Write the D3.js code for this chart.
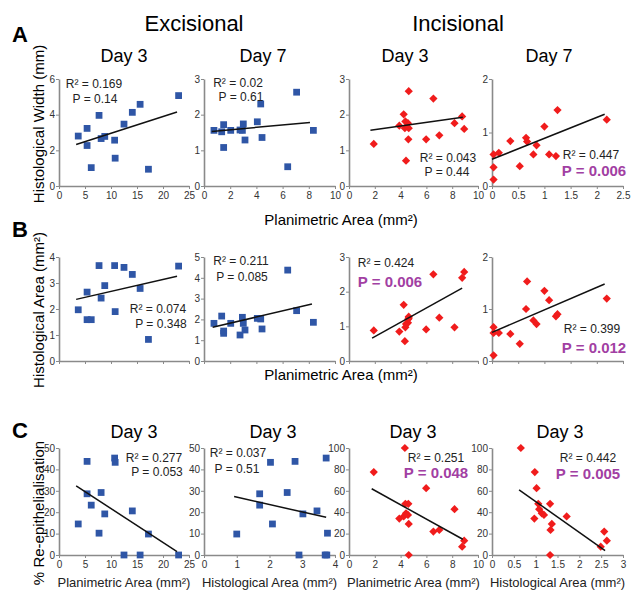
<!DOCTYPE html>
<html>
<head>
<meta charset="utf-8">
<script src="https://cdn.jsdelivr.net/npm/d3@7"></script>
<style>
body { margin: 0; background: #fff; }
svg { font-family: Arial, "Liberation Sans", sans-serif; }
.axis path, .axis line { stroke: #8a8a8a; }
.axis path { stroke-width: 1.6; }
.axis text { fill: #333; font-size: 10px; font-family: Arial, "Liberation Sans", sans-serif; }
</style>
</head>
<body>
<div id="main"></div>
<script>
// excisional wounds, day 3 (same wounds in A, B and C)
const excPlan3 = [3.7, 5.4, 5.4, 6.2, 7.7, 8.1, 8.8, 10.7, 10.8, 12.5, 14.1, 15.6, 17.2, 23.0]
const excWidth3 = [2.8, 3.23, 2.27, 1.03, 3.96, 2.66, 2.78, 2.57, 1.56, 3.47, 4.13, 4.58, 0.94, 5.07]
const excHist3 = [1.97, 2.65, 1.59, 1.59, 3.67, 2.42, 2.9, 3.67, 1.9, 3.6, 3.33, 2.79, 0.83, 3.65]
const excHist3C = [2.09, 2.78, 1.7, 1.7, 3.77, 2.54, 3.02, 3.73, 2.03, 3.7, 3.45, 2.9, 1.0, 3.75]
const excReepi3 = [14.5, 43.75, 28.6, 23.3, 10.2, 29.2, 19.2, 45.3, 43.3, 0, 20.6, 0, 9.8, 0]

// excisional wounds, day 7
const excPlan7 = [0.76, 1.35, 1.5, 1.5, 2.04, 2.75, 2.93, 3.0, 3.13, 4.07, 4.33, 4.43, 6.39, 7.07, 8.35]
const excWidth7 = [1.56, 1.52, 1.72, 1.08, 1.56, 1.57, 1.56, 1.74, 1.29, 1.8, 2.3, 1.36, 0.54, 2.63, 1.56]
const excHist7 = [1.81, 2.16, 1.44, 1.33, 1.81, 1.25, 2.1, 1.81, 1.49, 2.05, 2.02, 1.54, 4.37, 2.42, 1.86]

// incisional wounds, day 3
const incPlan3 = [1.92, 3.9, 4.24, 4.33, 4.37, 4.42, 4.57, 4.6, 4.63, 4.63, 5.98, 6.54, 7.0, 8.18, 8.77, 8.93]
const incWidth3 = [1.18, 1.69, 2.01, 1.62, 1.81, 0.71, 1.76, 1.31, 2.66, 1.62, 1.31, 2.45, 1.42, 1.76, 1.95, 1.6]
const incHist3 = [0.88, 0.85, 1.62, 0.57, 0.97, 1.07, 1.1, 1.21, 1.28, 1.24, 0.91, 2.5, 1.25, 0.97, 2.4, 2.57]
const incHist3C = [0.98, 0.97, 1.71, 0.66, 1.06, 1.14, 1.19, 1.33, 1.37, 1.33, 1.02, 2.57, 1.34, 1.08, 2.49, 2.63]
const incReepi3 = [77.5, 34, 36, 100, 47.8, 39, 37.5, 47.8, 29, 0, 62.5, 21.9, 23.4, 42.8, 7.8, 13.4]

// incisional wounds, day 7
const incPlan7 = [0.03, 0.03, 0.03, 0.13, 0.35, 0.53, 0.65, 0.67, 0.79, 0.85, 1.0, 1.09, 1.22, 1.25, 2.19]
const incWidth7 = [0.59, 0.35, 0.12, 0.62, 0.84, 0.37, 0.9, 0.83, 0.59, 0.76, 1.11, 0.59, 0.56, 1.42, 1.24]
const incHist7 = [0.65, 0.54, 0.11, 0.54, 0.52, 0.33, 1.0, 1.53, 0.78, 0.71, 1.35, 1.17, 0.86, 0.9, 1.2]

// regression lines, [x1, y1, x2, y2], panels A1..C4
const fits = [
    [3.3, 2.33, 22.7, 4.15], [0.59, 1.53, 8.09, 1.78], [1.66, 1.56, 8.82, 1.93], [0, 0.5, 2.15, 1.34],
    [3.3, 2.37, 22.7, 3.26], [0.66, 1.62, 8.24, 2.74], [1.79, 0.66, 8.77, 2.1], [0, 0.55, 2.15, 1.48],
    [3.3, 32.3, 22.7, 1.6], [0.92, 27.3, 3.73, 17.6], [1.76, 61.9, 8.82, 14.7], [0.62, 60.9, 2.59, 4.1]
]
const r2Values = ['0.169', '0.02', '0.043', '0.447', '0.074', '0.211', '0.424', '0.399', '0.277', '0.037', '0.251', '0.442']
const pValues = ['0.14', '0.61', '0.44', '0.006', '0.348', '0.085', '0.006', '0.012', '0.053', '0.51', '0.048', '0.005']

// tick labels
const ticksExcPlan3 = [0, 5, 10, 15, 20, 25]
const ticksTen = [0, 2, 4, 6, 8, 10]
const ticksIncPlan7 = [0, 0.5, 1, 1.5, 2, 2.5]
const ticksExcHist = [0, 1, 2, 3, 4]
const ticksIncHist = [0, 0.5, 1, 1.5, 2, 2.5, 3]
const ticksWidthExc3 = [0, 2, 4, 6]
const ticksThree = [0, 1, 2, 3]
const ticksTwo = [0, 1, 2]
const ticksFour = [0, 1, 2, 3, 4]
const ticksFive = [0, 1, 2, 3, 4, 5]
const ticksReepiExc = [0, 10, 20, 30, 40, 50]
const ticksReepiInc = [0, 20, 40, 60, 80, 100]

const dayTitles = ['Day 3', 'Day 7', 'Day 3', 'Day 7']
const groupTitles = ['Excisional', 'Incisional']

const w = 631, h = 590
const blue = '#2f56a6', red = '#f01c1c', purple = '#a23fa3'
const cols = [[59, 189], [204, 335], [349, 478], [492, 623]]
const rows = [[186, 79], [361, 257], [555, 448]]
const titleXA = [124, 263, 405, 549]
const titleXC = [134, 273, 413, 560]

// [R2 centre x, R2 baseline, P centre x, P baseline]
const statPos = [
    [94, 88, 95, 103], [238, 87, 241, 101], [448, 162, 447, 176], [591, 159, 594, 176],
    [158, 313, 161, 328], [241, 265, 242, 281], [386, 267, 390, 287], [592, 333, 594, 353],
    [154, 462, 157, 476], [238, 457, 237, 473], [436, 462, 436, 478], [588, 462, 588, 479]
]

const panels = [
    {x: excPlan3, y: excWidth3, xMax: 25, xT: ticksExcPlan3, yMax: 6, yT: ticksWidthExc3, inc: false},
    {x: excPlan7, y: excWidth7, xMax: 10, xT: ticksTen, yMax: 3, yT: ticksThree, inc: false},
    {x: incPlan3, y: incWidth3, xMax: 10, xT: ticksTen, yMax: 3, yT: ticksThree, inc: true},
    {x: incPlan7, y: incWidth7, xMax: 2.5, xT: ticksIncPlan7, yMax: 2, yT: ticksTwo, inc: true},
    {x: excPlan3, y: excHist3, xMax: 25, xT: ticksExcPlan3, yMax: 4, yT: ticksFour, inc: false},
    {x: excPlan7, y: excHist7, xMax: 10, xT: ticksTen, yMax: 5, yT: ticksFive, inc: false},
    {x: incPlan3, y: incHist3, xMax: 10, xT: ticksTen, yMax: 3, yT: ticksThree, inc: true},
    {x: incPlan7, y: incHist7, xMax: 2.5, xT: ticksIncPlan7, yMax: 2, yT: ticksTwo, inc: true},
    {x: excPlan3, y: excReepi3, xMax: 25, xT: ticksExcPlan3, yMax: 50, yT: ticksReepiExc, inc: false},
    {x: excHist3C, y: excReepi3, xMax: 4, xT: ticksExcHist, yMax: 50, yT: ticksReepiExc, inc: false},
    {x: incPlan3, y: incReepi3, xMax: 10, xT: ticksTen, yMax: 100, yT: ticksReepiInc, inc: true},
    {x: incHist3C, y: incReepi3, xMax: 3, xT: ticksIncHist, yMax: 100, yT: ticksReepiInc, inc: true}
]

const svg = d3.select('#main')
            .append('svg')
            .attr('width', w)
            .attr('height', h)

const square = d3.symbol().type(d3.symbolSquare).size(46)
const diamond = d3.symbol().type(d3.symbolSquare).size(34)

panels.forEach((p, i) => {
    const row = Math.floor(i / 4), col = i % 4
    const xScale = d3.scaleLinear().domain([0, p.xMax]).range(cols[col])
    const yScale = d3.scaleLinear().domain([0, p.yMax]).range(rows[row])

    const xAxis = d3.axisBottom(xScale)
                    .tickValues(p.xT)
                    .tickSize(3)
                    .tickPadding(3)
                    .tickSizeOuter(0)
                    .tickFormat(row == 1 ? '' : d => d)
    svg.append('g')
        .attr('class', 'axis')
        .attr('transform', 'translate(0,' + rows[row][0] + ')')
        .call(xAxis)

    const yAxis = d3.axisLeft(yScale)
                    .tickValues(p.yT)
                    .tickSize(3)
                    .tickPadding(1)
                    .tickSizeOuter(0)
                    .tickFormat(d => d)
    svg.append('g')
        .attr('class', 'axis')
        .attr('transform', 'translate(' + cols[col][0] + ',0)')
        .call(yAxis)

    const pts = p.x.map((d, k) => [d, p.y[k]])
    svg.append('g')
        .selectAll('path')
        .data(pts)
        .enter()
        .append('path')
        .attr('d', p.inc ? diamond : square)
        .attr('transform', d => {
            const t = 'translate(' + xScale(d[0]) + ',' + yScale(d[1]) + ')'
            return p.inc ? t + ' rotate(45)' : t
        })
        .attr('fill', p.inc ? red : blue)

    const f = fits[i]
    svg.append('line')
        .attr('x1', xScale(f[0]))
        .attr('y1', yScale(f[1]))
        .attr('x2', xScale(f[2]))
        .attr('y2', yScale(f[3]))
        .attr('stroke', '#111')
        .attr('stroke-width', 1.5)

    // stats
    const s = statPos[i]
    svg.append('text')
        .attr('x', s[0])
        .attr('y', s[1])
        .attr('text-anchor', 'middle')
        .style('font-size', '12px')
        .attr('fill', '#222')
        .text('R\u00b2 = ' + r2Values[i])
    const sig = +pValues[i] < 0.05
    svg.append('text')
        .attr('x', s[2])
        .attr('y', s[3])
        .attr('text-anchor', 'middle')
        .style('font-size', sig ? '15px' : '12px')
        .style('font-weight', sig ? 'bold' : 'normal')
        .attr('fill', sig ? purple : '#222')
        .text('P = ' + pValues[i])
})

// day titles, rows A and C
dayTitles.forEach((t, k) => {
    svg.append('text').text(t)
        .attr('x', titleXA[k]).attr('y', 62)
        .attr('text-anchor', 'middle')
        .style('font-size', '18px')
    svg.append('text').text('Day 3')
        .attr('x', titleXC[k]).attr('y', 438)
        .attr('text-anchor', 'middle')
        .style('font-size', '18px')
})

//group titles
svg.append('text').text(groupTitles[0])
    .attr('x', 194).attr('y', 31)
    .attr('text-anchor', 'middle')
    .style('font-size', '22px')
svg.append('text').text(groupTitles[1])
    .attr('x', 458).attr('y', 31)
    .attr('text-anchor', 'middle')
    .style('font-size', '22px')

// panel letters
const letters = [['A', 42], ['B', 237], ['C', 438]]
letters.forEach(l => {
    svg.append('text').text(l[0])
        .attr('x', 12).attr('y', l[1])
        .style('font-size', '22px')
        .style('font-weight', 'bold')
})

// x axis titles
svg.append('text').text('Planimetric Area (mm\u00b2)')
    .attr('x', 341).attr('y', 225)
    .attr('text-anchor', 'middle')
    .style('font-size', '15px')
svg.append('text').text('Planimetric Area (mm\u00b2)')
    .attr('x', 341).attr('y', 380)
    .attr('text-anchor', 'middle')
    .style('font-size', '15px')

const cTitles = ['Planimetric Area (mm\u00b2)', 'Histological Area (mm\u00b2)', 'Planimetric Area (mm\u00b2)', 'Histological Area (mm\u00b2)']
cTitles.forEach((t, k) => {
    svg.append('text').text(t)
        .attr('x', (cols[k][0] + cols[k][1]) / 2).attr('y', 587)
        .attr('text-anchor', 'middle')
        .style('font-size', '13px')
        .attr('fill', '#222')
})

// y axis titles
const yTitles = [['Histological Width (mm)', 124], ['Histological Area (mm\u00b2)', 310], ['% Re-epithelialisation', 513]]
yTitles.forEach(t => {
    svg.append('text').text(t[0])
        .attr('transform', 'translate(44,' + t[1] + ') rotate(-90)')
        .attr('text-anchor', 'middle')
        .style('font-size', '15px')
})
</script>
</body>
</html>
